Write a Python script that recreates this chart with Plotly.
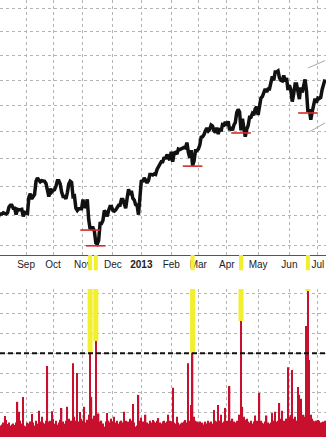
import numpy as np
import pandas as pd
import plotly.graph_objects as go

# ---------------- data ----------------
START, END = "2012-08-06", "2013-07-09"
HOLIDAYS = ["2012-09-03", "2012-10-29", "2012-10-30", "2012-11-22", "2012-12-25",
            "2013-01-01", "2013-01-21", "2013-02-18", "2013-03-29", "2013-05-27", "2013-07-04"]

close_aug = [1394, 1401, 1403, 1403, 1405, 1404, 1403, 1405, 1415, 1418, 1418, 1413, 1413, 1402, 1411, 1410, 1410, 1411, 1399, 1406]
close_sep = [1405, 1404, 1432, 1438, 1429, 1434, 1437, 1460, 1466, 1462, 1459, 1461, 1460, 1460, 1456, 1441, 1433, 1447, 1441]
close_oct = [1444, 1445, 1451, 1461, 1461, 1455, 1441, 1433, 1433, 1429, 1440, 1455, 1460, 1458, 1433, 1434, 1413, 1409, 1412, 1412, 1412]
close_nov = [1428, 1414, 1417, 1428, 1394, 1378, 1380, 1380, 1374, 1355, 1353, 1359, 1387, 1387, 1392, 1409, 1406, 1399, 1409, 1416, 1416]
close_dec = [1409, 1408, 1410, 1414, 1418, 1418, 1428, 1428, 1419, 1413, 1430, 1446, 1436, 1443, 1430, 1427, 1419, 1418, 1402, 1426]
close_jan = [1462, 1459, 1466, 1462, 1457, 1461, 1472, 1472, 1471, 1473, 1472, 1481, 1486, 1492, 1495, 1495, 1503, 1500, 1508, 1502, 1498]
close_feb = [1513, 1495, 1511, 1512, 1509, 1518, 1517, 1519, 1521, 1521, 1520, 1530, 1512, 1502, 1516, 1488, 1496, 1515, 1515]
close_mar = [1518, 1525, 1540, 1541, 1545, 1552, 1557, 1552, 1555, 1563, 1561, 1552, 1549, 1558, 1546, 1557, 1551, 1564, 1563, 1569]
close_apr = [1562, 1570, 1553, 1559, 1553, 1563, 1568, 1587, 1593, 1588, 1553, 1575, 1553, 1541, 1555, 1562, 1578, 1578, 1585, 1582, 1594, 1598]
close_may = [1582, 1597, 1615, 1618, 1626, 1633, 1627, 1633, 1633, 1651, 1658, 1650, 1667, 1667, 1669, 1655, 1650, 1649, 1660, 1648, 1655, 1631]
close_jun = [1640, 1631, 1608, 1623, 1643, 1643, 1627, 1613, 1636, 1626, 1639, 1652, 1629, 1588, 1593, 1573, 1588, 1603, 1614, 1606]
close_jul = [1615, 1614, 1616, 1632, 1641, 1652]

vol_aug = [0.45, 0.4, 0.35, 0.4, 0.5, 0.83, 0.63, 0.43, 0.5, 0.35, 0.4, 0.45, 0.38, 0.5, 1.55, 1.05, 0.6, 0.45, 1.8, 0.35]
vol_sep = [0.3, 0.5, 0.45, 0.55, 0.93, 0.5, 0.35, 0.6, 0.45, 1.1, 0.55, 0.8, 0.5, 0.45, 0.6, 3.36, 0.55, 0.6, 1.08]
vol_oct = [0.7, 0.45, 0.6, 0.4, 0.5, 0.65, 1.24, 0.55, 0.45, 0.6, 1.3, 0.7, 0.5, 0.6, 3.5, 0.8, 0.6, 3.0, 0.55, 1.03, 0.7]
vol_nov = [0.6, 1.3, 0.5, 0.65, 0.9, 4.03, 1.8, 0.7, 0.85, 4.62, 0.6, 0.96, 0.55, 0.6, 0.45, 0.3, 0.55, 0.98, 0.6, 0.5, 0.7]
vol_dec = [0.55, 0.8, 0.5, 0.6, 0.45, 0.55, 0.6, 0.5, 1.05, 0.6, 0.45, 0.55, 0.7, 0.6, 1.44, 0.5, 0.3, 0.35, 1.9, 0.6]
vol_jan = [0.75, 0.55, 0.5, 0.9, 0.5, 0.45, 0.6, 0.5, 0.63, 0.55, 0.5, 0.6, 0.73, 0.5, 0.45, 0.55, 0.6, 0.5, 0.55, 0.9, 0.6]
vol_feb = [0.55, 2.26, 0.5, 0.45, 0.8, 0.5, 0.4, 0.45, 0.5, 0.55, 0.63, 0.5, 3.5, 0.6, 1.39, 4.03, 0.8, 0.6, 0.55]
vol_mar = [0.5, 0.55, 0.45, 0.5, 0.4, 0.55, 0.45, 0.6, 0.5, 0.55, 0.45, 1.14, 0.6, 0.55, 1.39, 0.6, 0.9, 0.5, 0.55, 1.24]
vol_apr = [0.6, 0.5, 2.35, 0.6, 0.7, 0.55, 0.5, 0.6, 0.55, 0.9, 5.63, 1.3, 0.8, 0.65, 0.7, 0.55, 0.5, 0.6, 0.45, 0.55, 0.86, 0.6]
vol_may = [0.55, 2.0, 0.6, 0.5, 0.45, 0.55, 0.86, 0.5, 0.45, 0.5, 0.98, 0.6, 1.05, 0.55, 0.6, 1.49, 0.7, 1.1, 0.6, 0.5, 0.7, 3.3]
vol_jun = [0.8, 0.9, 3.16, 0.7, 0.8, 0.6, 2.3, 1.9, 1.7, 0.7, 0.9, 0.8, 5.38, 7.15, 3.66, 0.9, 0.7, 0.6, 0.55, 0.6]
vol_jul = [0.63, 0.6, 0.5, 0.5, 0.55, 0.6]

month_ticks = ["2012-09-04", "2012-10-01", "2012-11-01", "2012-12-03", "2013-01-02", "2013-02-01",
               "2013-03-01", "2013-04-01", "2013-05-01", "2013-06-03", "2013-07-01"]
month_labels = ["Sep", "Oct", "Nov", "Dec", "<b>2013</b>", "Feb", "Mar", "Apr", "May", "Jun", "Jul"]

price_grid = [1350, 1400, 1450, 1500, 1550, 1600, 1650, 1700, 1750, 1800]
vol_grid = [0, 1, 2, 3, 4, 5, 6, 7]
vol_threshold = 4

highlight_dates = ["2012-11-08", "2012-11-14", "2013-02-25", "2013-04-15", "2013-06-20"]
highlight_prices = [1376, 1350, 1487, 1548, 1586]

trend_upper_x = ["2013-06-20", "2013-07-09"]
trend_upper_y = [1675, 1690]
trend_lower_x = ["2013-06-21", "2013-07-09"]
trend_lower_y = [1550, 1567]

# ---------------- build ----------------
dates = pd.bdate_range(START, END)
dates = dates[~dates.isin(pd.to_datetime(HOLIDAYS))]
closes = (close_aug + close_sep + close_oct + close_nov + close_dec + close_jan + close_feb +
          close_mar + close_apr + close_may + close_jun + close_jul)
vols = (vol_aug + vol_sep + vol_oct + vol_nov + vol_dec + vol_jan + vol_feb +
        vol_mar + vol_apr + vol_may + vol_jun + vol_jul)
assert len(dates) == len(closes) == len(vols), (len(dates), len(closes), len(vols))

vol_series = pd.Series(vols, index=dates)

W, H = 326, 437
TOP_BOTTOM_PX = 255      # bottom edge of price panel
VOL_TOP_PX = 289         # top edge of lower panel
Y_LOW, Y_HIGH = 1335, 1819
V_LOW, V_HIGH = -0.227, 7.25

GRID = "#b4b4b4"
RED = "#c8102e"
YELLOW = "#f2ef2c"
FONT = "Liberation Sans, Arial, sans-serif"

fig = go.Figure()

fig.add_trace(go.Scatter(x=dates, y=closes, mode="lines",
                         line=dict(color="#111111", width=3.5), xaxis="x", yaxis="y",
                         hoverinfo="skip"))
fig.add_trace(go.Scatter(x=trend_upper_x, y=trend_upper_y, mode="lines",
                         line=dict(color="#a8a8a8", width=1), xaxis="x", yaxis="y"))
fig.add_trace(go.Scatter(x=trend_lower_x, y=trend_lower_y, mode="lines",
                         line=dict(color="#a8a8a8", width=1), xaxis="x", yaxis="y"))
fig.add_trace(go.Scatter(x=highlight_dates, y=highlight_prices, mode="markers",
                         marker=dict(symbol="line-ew", size=14, color="#d62a2a",
                                     line=dict(color="#d62a2a", width=1.6)),
                         xaxis="x", yaxis="y"))

fig.add_trace(go.Bar(x=dates, y=np.array(vols) - V_LOW, base=V_LOW,
                     marker=dict(color=RED, line=dict(width=0)),
                     xaxis="x2", yaxis="y2", hoverinfo="skip"))

shapes = []
for d, p in zip(highlight_dates, highlight_prices):
    shapes.append(dict(type="line", xref="x", yref="y", x0=d, x1=d,
                       y0=np.log10(p), y1=np.log10(Y_LOW), layer="between",
                       line=dict(color=YELLOW, width=4)))
    shapes.append(dict(type="line", xref="x", yref="y domain", x0=d, x1=d,
                       y0=0, y1=-0.06, layer="above",
                       line=dict(color=YELLOW, width=4)))
    shapes.append(dict(type="line", xref="x2", yref="y2", x0=d, x1=d,
                       y0=float(vol_series[pd.Timestamp(d)]), y1=V_HIGH, layer="between",
                       line=dict(color=YELLOW, width=5)))
shapes.append(dict(type="line", xref="x2 domain", yref="y2", x0=0, x1=1,
                   y0=vol_threshold, y1=vol_threshold, layer="above",
                   line=dict(color="#111111", width=2, dash="5px,3px")))

rangebreaks = [dict(bounds=["sat", "mon"]), dict(values=HOLIDAYS)]
x_range = ["2012-08-07 16:48", "2013-07-09 16:48"]

fig.update_layout(
    width=W, height=H, margin=dict(l=0, r=0, t=0, b=0),
    paper_bgcolor="white", plot_bgcolor="white",
    showlegend=False, bargap=0.05,
    font=dict(family=FONT, size=10, color="#222222"),
    shapes=shapes,
    xaxis=dict(domain=[0, 1], anchor="y", type="date", range=x_range,
               rangebreaks=rangebreaks, tickmode="array", tickvals=month_ticks,
               ticktext=month_labels, showgrid=True, gridcolor=GRID, griddash="dot",
               gridwidth=1, showline=True, linecolor="#555555", linewidth=1,
               ticks="", tickfont=dict(size=10, color="#222222"), zeroline=False),
    yaxis=dict(domain=[(H - TOP_BOTTOM_PX) / H, 1], anchor="x", type="log",
               range=[np.log10(Y_LOW), np.log10(Y_HIGH)], tickmode="array",
               tickvals=price_grid, showticklabels=False, showgrid=True,
               gridcolor=GRID, griddash="dot", gridwidth=1, zeroline=False, showline=False),
    xaxis2=dict(domain=[0, 1], anchor="y2", type="date", matches="x",
                rangebreaks=rangebreaks, tickmode="array", tickvals=month_ticks,
                showticklabels=False, showgrid=True, gridcolor=GRID, griddash="dot",
                gridwidth=1, showline=False, ticks="", zeroline=False),
    yaxis2=dict(domain=[0, (H - VOL_TOP_PX) / H], anchor="x2", range=[V_LOW, V_HIGH],
                tickmode="array", tickvals=vol_grid, showticklabels=False, showgrid=True,
                gridcolor=GRID, griddash="dot", gridwidth=1, zeroline=False, showline=False),
)

fig.write_html("out.html", config={"displayModeBar": False})
